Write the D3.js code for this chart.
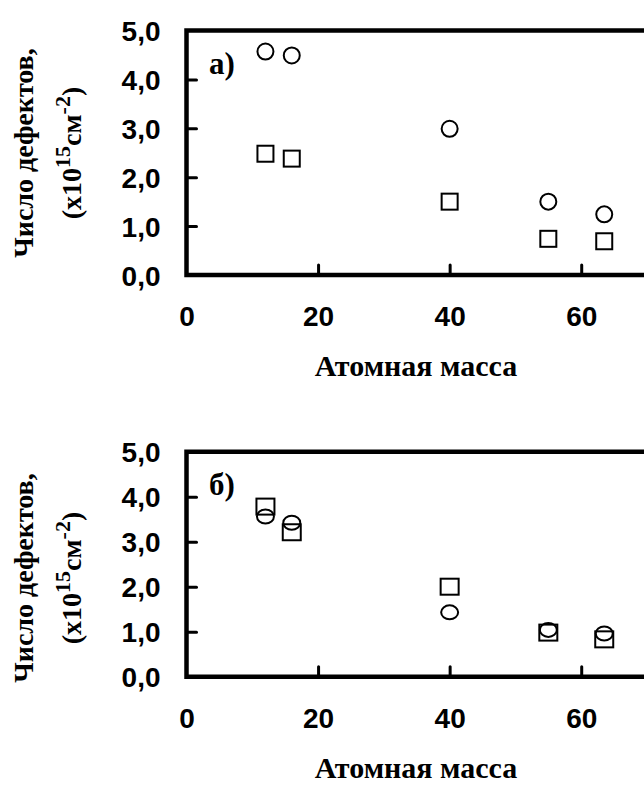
<!DOCTYPE html>
<html lang="ru">
<head>
<meta charset="UTF-8">
<title>Число дефектов vs атомная масса</title>
<script src="https://d3js.org/d3.v7.min.js"></script>
<style>
    body { margin: 0; background: #fff; }
    svg { display: block; }
    .tick-label { font-family: "Liberation Sans", Arial, sans-serif; font-weight: bold; font-size: 28px; fill: #000; }
    .title { font-family: "Liberation Serif", "Times New Roman", serif; font-weight: bold; font-size: 28px; fill: #000; }
</style>
</head>
<body>
<svg width="644" height="785"></svg>
<script>
    // atomic masses (C, O, Ar, Mn, Cu)
    const masses = [12, 16, 40, 55, 63.5];

    // panel a)
    const topCircles = [4.57, 4.49, 2.99, 1.50, 1.24];
    const topSquares = [2.48, 2.38, 1.50, 0.74, 0.69];

    // panel б)
    const botCircles = [3.56, 3.42, 1.43, 1.04, 0.96];
    const botSquares = [3.78, 3.21, 2.00, 0.98, 0.83];

    const yTicks = [0, 1, 2, 3, 4, 5];
    const yTickLabels = ["0,0", "1,0", "2,0", "3,0", "4,0", "5,0"];
    const xTicks = [0, 20, 40, 60];
    const xTickLabels = ["0", "20", "40", "60"];

    const svg = d3.select("svg");

    const x = d3.scaleLinear().domain([0, 70]).range([186.5, 647]);

    function drawPanel(p) {
        const y = d3.scaleLinear().domain([0, 5]).range([p.bottom, p.top]);
        const g = svg.append("g");

        // y axis: inward ticks, labels on the left
        const yAxis = g.append("g")
            .attr("transform", `translate(${x(0)},0)`)
            .call(d3.axisLeft(y).tickValues(yTicks)
                .tickFormat((d, i) => yTickLabels[i])
                .tickSizeInner(-10).tickSizeOuter(0).tickPadding(26));
        yAxis.select(".domain").remove();
        yAxis.selectAll(".tick line").attr("stroke", "#000").attr("stroke-width", 3).attr("stroke-linecap", "round");
        yAxis.selectAll(".tick text").attr("class", "tick-label").attr("dy", "0.36em");
        yAxis.selectAll(".tick").filter(d => d === 0 || d === 5).select("line").remove();

        // x axis
        const xAxis = g.append("g")
            .attr("transform", `translate(0,${p.bottom})`)
            .call(d3.axisBottom(x).tickValues(xTicks)
                .tickFormat((d, i) => xTickLabels[i])
                .tickSizeInner(-10).tickSizeOuter(0).tickPadding(31));
        xAxis.select(".domain").remove();
        xAxis.selectAll(".tick line").attr("stroke", "#000").attr("stroke-width", 3).attr("stroke-linecap", "round");
        xAxis.selectAll(".tick text").attr("class", "tick-label").attr("dy", "0.71em");
        xAxis.selectAll(".tick").filter(d => d === 0).select("line").remove();

        // frame (left, bottom, top; right side runs off the page)
        g.append("path")
            .attr("d", `M${x(70)},${y(5)}H${x(0)}V${y(0)}H${x(70)}`)
            .attr("fill", "none").attr("stroke", "#000").attr("stroke-width", 4.5);

        // squares
        g.append("g").selectAll("rect")
            .data(p.squares)
            .join("rect")
            .attr("x", (d, i) => x(masses[i]) - p.sqW / 2)
            .attr("y", d => y(d) - p.sqH / 2)
            .attr("width", p.sqW).attr("height", p.sqH)
            .attr("fill", "none").attr("stroke", "#000").attr("stroke-width", 2);

        // circles
        g.append("g").selectAll("ellipse")
            .data(p.circles)
            .join("ellipse")
            .attr("cx", (d, i) => x(masses[i]))
            .attr("cy", d => y(d))
            .attr("rx", p.rx).attr("ry", p.ry)
            .attr("fill", "none").attr("stroke", "#000").attr("stroke-width", 2);

        // panel letter
        g.append("text").attr("class", "title").style("font-size", "31px")
            .attr("x", 209).attr("y", p.letterY).text(p.letter);

        // axis titles
        g.append("text").attr("class", "title").style("font-size", "30px")
            .attr("text-anchor", "middle")
            .attr("x", 416).attr("y", p.xTitleY)
            .text("Атомная масса");

        const rot = `translate(0,${p.titleMid}) rotate(-90)`;
        g.append("text").attr("class", "title")
            .attr("text-anchor", "middle")
            .attr("transform", rot)
            .attr("y", 33)
            .text("Число дефектов,");

        const l2 = g.append("text").attr("class", "title")
            .attr("text-anchor", "middle")
            .attr("transform", rot)
            .attr("y", 81);
        l2.append("tspan").text("(x10");
        l2.append("tspan").attr("dy", -11).attr("font-size", 22).text("15");
        l2.append("tspan").attr("dy", 11).text("см");
        l2.append("tspan").attr("dy", -11).attr("font-size", 22).text("-2");
        l2.append("tspan").attr("dy", 11).text(")");
    }

    drawPanel({
        top: 30.5, bottom: 275,
        circles: topCircles, squares: topSquares,
        sqW: 16, sqH: 16, rx: 8, ry: 8,
        letter: "а)", letterY: 74, titleMid: 153, xTitleY: 376
    });

    drawPanel({
        top: 451.7, bottom: 676.7,
        circles: botCircles, squares: botSquares,
        sqW: 18, sqH: 16, rx: 8.5, ry: 7,
        letter: "б)", letterY: 495, titleMid: 578, xTitleY: 778
    });
</script>
</body>
</html>
